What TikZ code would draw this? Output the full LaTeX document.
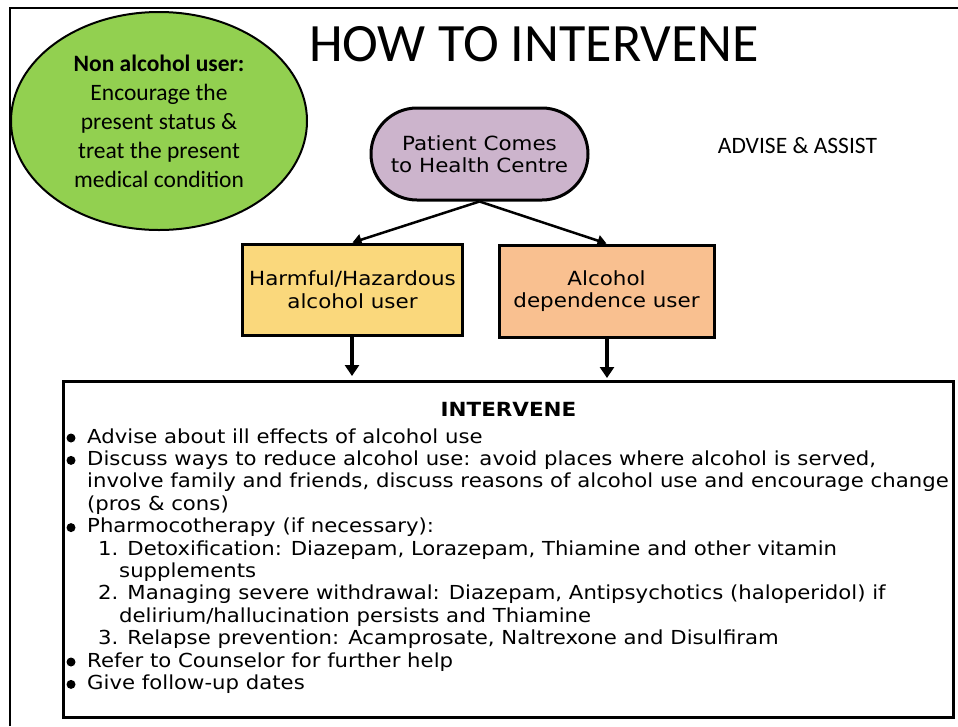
\documentclass[tikz,border=0pt]{standalone}
\usepackage{fontspec}
\setmainfont[FakeStretch=1.1]{DejaVu Sans}
\newfontfamily\calib{Carlito}
\usetikzlibrary{shapes.geometric,arrows.meta}
\definecolor{ellgreen}{RGB}{146,208,80}
\definecolor{patpurple}{RGB}{204,180,204}
\definecolor{harmyellow}{RGB}{250,216,124}
\definecolor{depor}{RGB}{249,192,144}
\tikzset{
  bodytxt/.style={anchor=base west, inner sep=0pt, font=\fontsize{19.3}{22}\selectfont},
  bul/.style={circle, fill=black, inner sep=0pt, minimum size=9pt},
  boxnode/.style={draw=black, line width=3pt, inner sep=0pt, align=center, font=\fontsize{19.5}{22.5}\selectfont},
  arr/.style={line width=2.5pt, -{Triangle[width=11pt,length=9pt]}},
  darr/.style={line width=3.5pt, -{Triangle[width=14pt,length=11pt]}},
}
\begin{document}
\begin{tikzpicture}[x=1pt,y=-1pt]
\useasboundingbox (0,0) rectangle (958,726);
% outer frame
\draw[line width=2.5pt] (10,726) -- (10,8) -- (958,8);
% title
\node[font=\calib\fontsize{54}{60}\selectfont, inner sep=0pt] (title) at (534,44) {HOW TO INTERVENE};
\node[font=\calib\fontsize{23.5}{28}\selectfont, inner sep=0pt] (advise) at (797.5,146) {ADVISE \& ASSIST};
% ellipse
\node[ellipse, draw=black, line width=2pt, fill=ellgreen, minimum width=296pt, minimum height=218pt, inner sep=0pt,
      align=center, font=\calib\fontsize{23.5}{29}\selectfont] (nonalc) at (159,121)
  {\textbf{Non alcohol user:}\\Encourage the\\present status \&\\treat the present\\medical condition};
% patient
\node[boxnode, fill=patpurple, rounded corners=46pt, minimum width=217pt, minimum height=92pt] (pat) at (479.5,154)
  {Patient Comes\\to Health Centre};
% categories
\node[boxnode, fill=harmyellow, minimum width=220pt, minimum height=91pt] (harm) at (352.5,289.5)
  {Harmful/Hazardous\\alcohol user};
\node[boxnode, fill=depor, minimum width=215pt, minimum height=92pt] (dep) at (606.5,291)
  {Alcohol\\dependence user};
\draw[arr] (pat.south) -- (harm.north);
\draw[arr] (pat.south) -- (dep.north);
\coordinate (h1) at (352,376);
\coordinate (h2) at (607,378);
\draw[darr] (harm.south -| h1) -- (h1);
\draw[darr] (dep.south -| h2) -- (h2);
% intervene box
\node[draw=black, line width=3pt, minimum width=890pt, minimum height=336pt, inner sep=0pt] (intv) at (508,549) {};
\node[font=\bfseries\fontsize{19.5}{22}\selectfont, anchor=base, inner sep=0pt] (ihead) at (508.5,416) {INTERVENE};
\node[bodytxt] (l1) at (87,443) {Advise about ill effects of alcohol use};
\node[bodytxt] (l2) at (87,465.4) {Discuss ways to reduce alcohol use: avoid places where alcohol is served,};
\node[bodytxt] (l3) at (87,487.8) {involve family and friends, discuss reasons of alcohol use and encourage change};
\node[bodytxt] (l4) at (87,510.2) {(pros \& cons)};
\node[bodytxt] (l5) at (87,532.6) {Pharmocotherapy (if necessary):};
\node[bodytxt] (l6) at (98,555) {1. Detoxification: Diazepam, Lorazepam, Thiamine and other vitamin};
\node[bodytxt] (l7) at (119,577.4) {supplements};
\node[bodytxt] (l8) at (98,599.8) {2. Managing severe withdrawal: Diazepam, Antipsychotics (haloperidol) if};
\node[bodytxt] (l9) at (119,622.2) {delirium/hallucination persists and Thiamine};
\node[bodytxt] (l10) at (98,644.6) {3. Relapse prevention: Acamprosate, Naltrexone and Disulfiram};
\node[bodytxt] (l11) at (87,667) {Refer to Counselor for further help};
\node[bodytxt] (l12) at (87,689.4) {Give follow-up dates};
\node[bul] (b1) at (71,438) {};
\node[bul] (b2) at (71,460.4) {};
\node[bul] (b5) at (71,527.6) {};
\node[bul] (b11) at (71,662) {};
\node[bul] (b12) at (71,684.4) {};
\end{tikzpicture}
\end{document}
